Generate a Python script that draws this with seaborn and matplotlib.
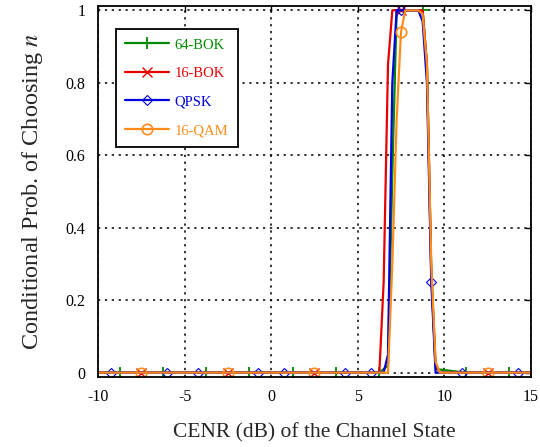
import matplotlib
matplotlib.use("Agg")
import matplotlib.pyplot as plt
import seaborn as sns
import pandas as pd

# ---- data ----
bok64_x = [-10, -8.75, -6.25, -3.75, -1.25, 1.25, 3.75, 6.25, 6.75, 7.0, 7.25, 7.5, 8.0, 8.5, 8.75, 9.0, 9.25, 9.5, 11.25, 13.75, 15]
bok64_y = [0, 0, 0, 0, 0, 0, 0, 0, 0.02, 0.55, 1.0, 1.0, 1.0, 1.0, 1.0, 0.85, 0.28, 0.01, 0, 0, 0]
bok64_marks = [1, 2, 3, 4, 5, 6, 7, 14, 18, 19]

bok16_x = [-10, -7.5, -2.5, 2.5, 6.25, 6.5, 6.75, 7.0, 7.5, 8.0, 8.5, 8.75, 9.0, 9.25, 9.5, 9.75, 12.5, 15]
bok16_y = [0, 0, 0, 0, 0, 0.25, 0.85, 1.0, 1.0, 1.0, 1.0, 1.0, 0.85, 0.27, 0.02, 0, 0, 0]
bok16_marks = [1, 2, 3, 8, 16]

qpsk_x = [-10, -9.25, -6.0, -4.25, -0.75, 0.75, 4.25, 5.75, 6.5, 6.75, 7.0, 7.25, 7.5, 8.0, 8.5, 8.75, 9.0, 9.25, 9.5, 11.0, 14.25, 15]
qpsk_y = [0, 0, 0, 0, 0, 0, 0, 0, 0, 0.05, 0.8, 1.0, 1.0, 1.0, 1.0, 0.97, 0.8, 0.25, 0, 0, 0, 0]
qpsk_marks = [1, 2, 3, 4, 5, 6, 7, 12, 17, 19, 20]

qam16_x = [-10, -7.5, -2.5, 2.5, 6.75, 7.0, 7.25, 7.5, 7.75, 8.0, 8.5, 8.75, 9.0, 9.25, 9.5, 9.75, 12.5, 15]
qam16_y = [0, 0, 0, 0, 0, 0.3, 0.7, 0.94, 1.0, 1.0, 1.0, 0.99, 0.85, 0.3, 0.03, 0, 0, 0]
qam16_marks = [1, 2, 3, 7, 16]

labels = ["64-BOK", "16-BOK", "QPSK", "16-QAM"]
x_ticks = [-10, -5, 0, 5, 10, 15]
y_ticks = [0, 0.2, 0.4, 0.6, 0.8, 1]
y_ticklabels = ["0", "0.2", "0.4", "0.6", "0.8", "1"]

# ---- style ----
sns.set_theme(style="white")
plt.rcParams["font.family"] = ["Liberation Serif", "DejaVu Serif"]
plt.rcParams["mathtext.fontset"] = "stix"

series = [
    (bok64_x, bok64_y, bok64_marks, "#008a00", "+", dict(markersize=9, markeredgewidth=1.3)),
    (bok16_x, bok16_y, bok16_marks, "#e60000", "x", dict(markersize=7, markeredgewidth=1.0)),
    (qpsk_x, qpsk_y, qpsk_marks, "#0000e0", "D", dict(markersize=5, markeredgewidth=0.8, markerfacecolor="none")),
    (qam16_x, qam16_y, qam16_marks, "#ff8c1a", "o", dict(markersize=7.5, markeredgewidth=1.2, markerfacecolor="none")),
]

fig = plt.figure(figsize=(5.40, 4.47), dpi=100)
ax = fig.add_axes([0.1815, 0.1566, 0.8015, 0.83])

for (xs, ys, marks, color, mk, mkw), lab in zip(series, labels):
    df = pd.DataFrame({"x": xs, "y": ys})
    sns.lineplot(data=df, x="x", y="y", ax=ax, color=color, linewidth=1.6,
                 marker=mk, markevery=marks, markeredgecolor=color,
                 label=lab, estimator=None, sort=False, **mkw)

ax.set_xlim(-10, 15)
ax.set_ylim(-0.012, 1.012)
ax.set_xticks(x_ticks)
ax.set_xticklabels([str(t) for t in x_ticks])
ax.set_yticks(y_ticks)
ax.set_yticklabels(y_ticklabels)
ax.tick_params(direction="in", length=4, width=1, labelsize=11.5, colors="black",
               top=True, right=True, pad=9)
ax.grid(True, color="black", linestyle=(0, (1.5, 3)), linewidth=1.1)
for s in ax.spines.values():
    s.set_color("black")
    s.set_linewidth(1.3)

ax.set_xlabel("CENR (dB) of the Channel State", fontsize=15.5, labelpad=13)
ax.set_ylabel("Conditional Prob. of Choosing $n$", fontsize=17.5, labelpad=15)

leg = ax.legend(loc="upper left", bbox_to_anchor=(0.024, 0.958), fontsize=10.5,
                frameon=True, fancybox=False, edgecolor="black", framealpha=1,
                handlelength=3.0, borderpad=0.65, labelspacing=1.05, handletextpad=0.4)
leg.get_frame().set_linewidth(1.3)
for txt, (_, _, _, color, _, _) in zip(leg.get_texts(), series):
    txt.set_color(color)

fig.savefig("out.png", dpi=100)
